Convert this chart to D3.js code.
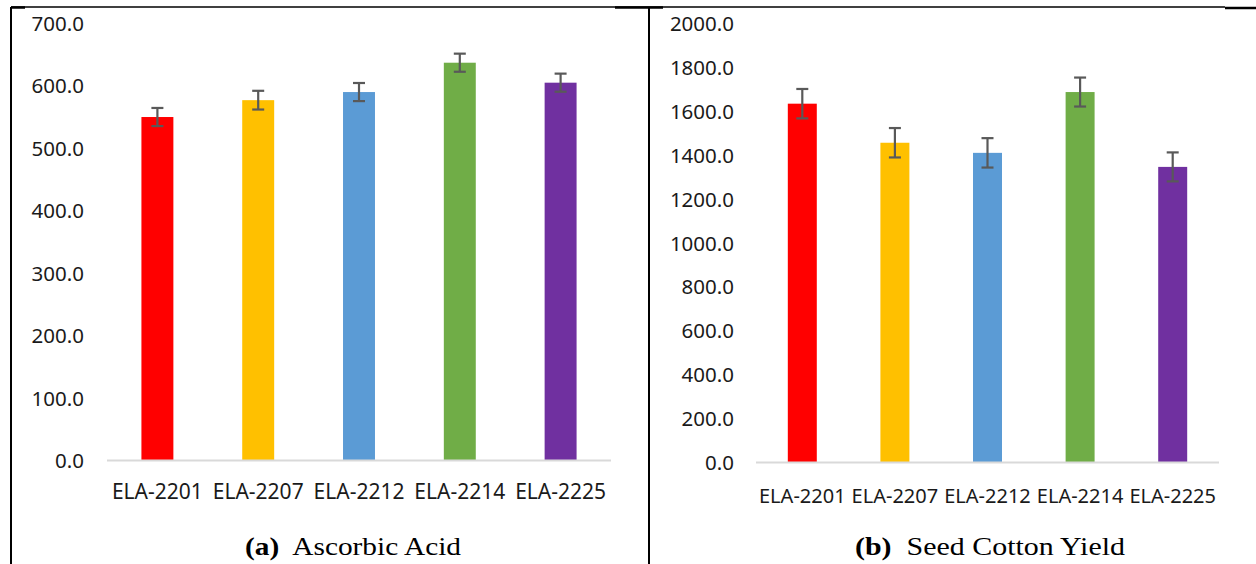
<!DOCTYPE html>
<html>
<head>
<meta charset="utf-8">
<script src="https://cdn.jsdelivr.net/npm/d3@7"></script>
<style>
  body { margin: 0; background: #fff; }
  svg { display: block; }
</style>
</head>
<body>
<div id="chart"></div>
<script>
// data
var categories = ["ELA-2201", "ELA-2207", "ELA-2212", "ELA-2214", "ELA-2225"];
var ascorbic    = [551, 578, 591, 638, 606];
var ascorbicErr = [14.5, 15, 14.5, 14.5, 14.5];
var cottonYield = [1637, 1459, 1413, 1690, 1349];
var yieldErr    = [67, 67, 67, 66, 66];
var ticksA = [0, 100, 200, 300, 400, 500, 600, 700];
var ticksB = [0, 200, 400, 600, 800, 1000, 1200, 1400, 1600, 1800, 2000];
var barColors = ["#ff0000", "#ffc000", "#5b9bd5", "#70ad47", "#7030a0"];

var svg = d3.select("#chart").append("svg").attr("width", 1256).attr("height", 564);

// table borders round the two panels
var frame = svg.append("g").attr("stroke", "#000").attr("fill", "none");
frame.append("line").attr("x1", 11).attr("y1", 7).attr("x2", 1225).attr("y2", 7).attr("stroke-width", 1.5);
frame.append("line").attr("x1", 11).attr("y1", 7.5).attr("x2", 25).attr("y2", 7.5).attr("stroke-width", 2.5);
frame.append("line").attr("x1", 615).attr("y1", 7.5).attr("x2", 663).attr("y2", 7.5).attr("stroke-width", 2.5);
frame.append("line").attr("x1", 1225).attr("y1", 8).attr("x2", 1256).attr("y2", 8).attr("stroke-width", 2.5);
frame.append("line").attr("x1", 11).attr("y1", 7).attr("x2", 11).attr("y2", 564).attr("stroke-width", 2);
frame.append("line").attr("x1", 649).attr("y1", 7).attr("x2", 649).attr("y2", 564).attr("stroke-width", 2);

function barPanel(opt) {
  var g = svg.append("g");

  var x = d3.scaleBand().domain(categories).range(opt.xRange)
    .paddingInner(opt.gap).paddingOuter(opt.gap / 2);
  var y = d3.scaleLinear().domain([0, opt.ticks[opt.ticks.length - 1]]).range(opt.yRange);

  // y tick labels
  var yAxis = g.append("g")
    .attr("transform", "translate(" + opt.labelRight + ",0)")
    .call(d3.axisLeft(y).tickValues(opt.ticks).tickFormat(d3.format(".1f")).tickSize(0).tickPadding(0));
  yAxis.select(".domain").remove();
  yAxis.selectAll("text")
    .attr("font-family", "'Noto Sans', sans-serif")
    .attr("font-size", "20.5px")
    .attr("fill", "#1a1a1a");

  // bars
  g.selectAll("rect.bar").data(opt.values).enter().append("rect")
    .attr("class", "bar")
    .attr("x", function(d, i) { return x(categories[i]); })
    .attr("y", function(d) { return y(d); })
    .attr("width", x.bandwidth())
    .attr("height", function(d) { return y(0) - y(d); })
    .attr("fill", function(d, i) { return barColors[i]; });

  // baseline
  g.append("line")
    .attr("x1", opt.xRange[0]).attr("x2", opt.xRange[1])
    .attr("y1", y(0) - 0.5).attr("y2", y(0) - 0.5)
    .attr("stroke", "#d9d9d9").attr("stroke-width", 2);

  // error bars
  var cap = 6;
  var err = g.append("g").attr("stroke", "#595959").attr("stroke-width", 2.2);
  opt.values.forEach(function(v, i) {
    var cx = x(categories[i]) + x.bandwidth() / 2;
    var top = y(v + opt.errors[i]), bot = y(v - opt.errors[i]);
    err.append("line").attr("x1", cx).attr("x2", cx).attr("y1", top).attr("y2", bot);
    err.append("line").attr("x1", cx - cap).attr("x2", cx + cap).attr("y1", top).attr("y2", top);
    err.append("line").attr("x1", cx - cap).attr("x2", cx + cap).attr("y1", bot).attr("y2", bot);
  });

  // category labels
  g.selectAll("text.cat").data(categories).enter().append("text")
    .attr("class", "cat")
    .attr("x", function(d) { return x(d) + x.bandwidth() / 2; })
    .attr("y", opt.catY)
    .attr("text-anchor", "middle")
    .attr("font-family", "'Noto Sans', sans-serif")
    .attr("font-size", opt.catSize)
    .attr("fill", "#1a1a1a")
    .text(function(d) { return d; });

  // caption (the scanned figure is a little stretched sideways)
  var capText = g.append("text")
    .attr("x", opt.captionX).attr("y", 555)
    .attr("font-family", "'Liberation Serif', 'Times New Roman', serif")
    .attr("font-size", "25px")
    .attr("fill", "#000")
    .attr("textLength", opt.captionW)
    .attr("lengthAdjust", "spacingAndGlyphs");
  capText.append("tspan").attr("font-weight", "bold").text(opt.tag);
  capText.append("tspan").text("\u00a0 " + opt.caption);
}

barPanel({
  values: ascorbic, errors: ascorbicErr, ticks: ticksA,
  xRange: [107, 611], yRange: [461, 24], gap: 0.683,
  labelRight: 84, catY: 499, catSize: "21px",
  captionX: 245, captionW: 216, tag: "(a)", caption: "Ascorbic Acid"
});

barPanel({
  values: cottonYield, errors: yieldErr, ticks: ticksB,
  xRange: [756, 1219], yRange: [463, 24], gap: 0.687,
  labelRight: 734, catY: 503, catSize: "20px",
  captionX: 855, captionW: 270, tag: "(b)", caption: "Seed Cotton Yield"
});
</script>
</body>
</html>
